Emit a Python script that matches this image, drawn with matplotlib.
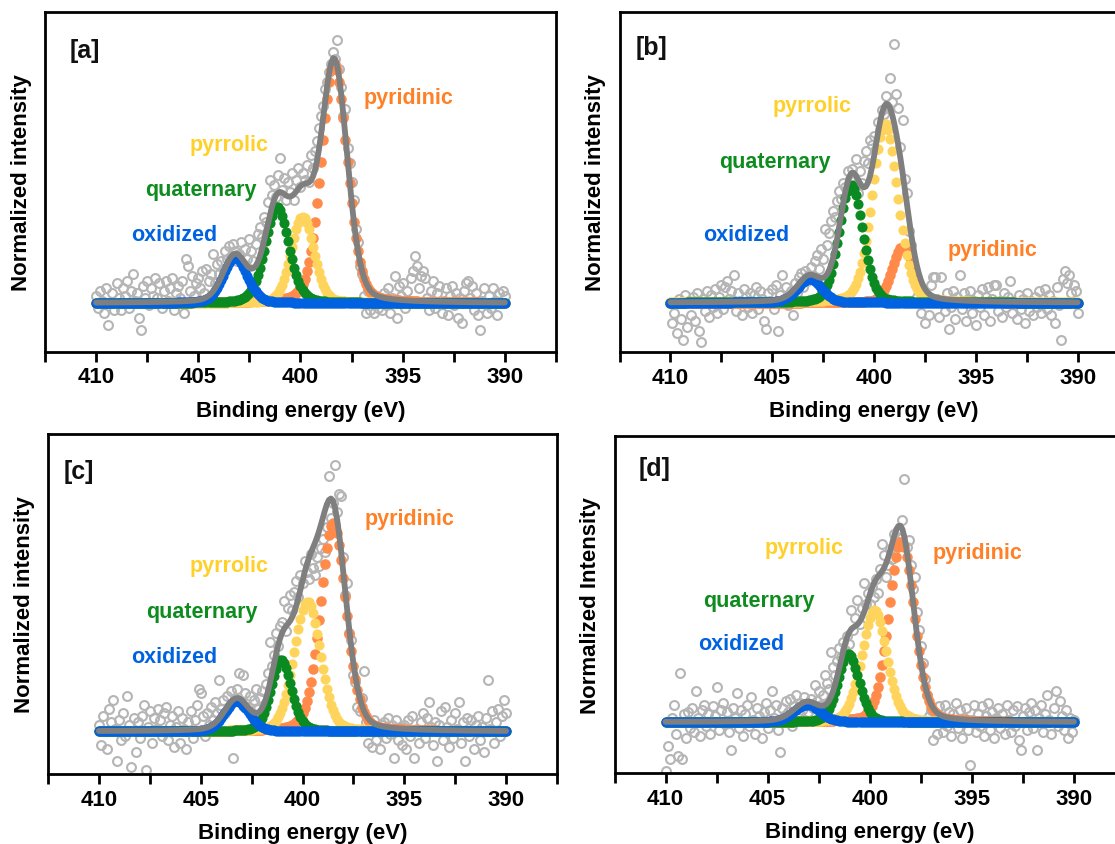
import numpy as np
import matplotlib
matplotlib.use("Agg")
import matplotlib.pyplot as plt
from matplotlib.ticker import MultipleLocator

plt.rcParams["font.family"] = ["Liberation Sans", "DejaVu Sans"]
plt.rcParams["font.weight"] = "bold"

# ---------------------------------------------------------------------------
# N 1s spectra: binding energy grid (eV), 0.1 eV step
# ---------------------------------------------------------------------------
e_start, e_stop, e_step = 410.0, 390.0, 0.1
energy = np.round(np.arange(e_start, e_stop - e_step / 2, -e_step), 1)

# measured, background-subtracted and normalised intensities (410 -> 390 eV)
intensity_a = [
    0.03, -0.02, 0.05, 0.01, -0.04, 0.06, -0.09, 0.00, 0.04, -0.03,
    0.08, 0.02, -0.03, 0.06, 0.03, 0.09, -0.02, 0.05, 0.12, 0.01,
    0.04, -0.06, -0.11, 0.07, 0.02, 0.09, -0.01, 0.06, 0.03, 0.10,
    0.02, 0.08, -0.02, 0.05, 0.09, 0.01, 0.06, 0.10, -0.03, 0.04,
    0.07, 0.02, 0.09, -0.04, 0.18, 0.15, 0.05, 0.11, 0.03, 0.08,
    0.10, 0.06, 0.13, 0.04, 0.14, 0.09, 0.12, 0.20, 0.08, 0.16,
    0.12, 0.17, 0.14, 0.21, 0.18, 0.23, 0.19, 0.24, 0.21, 0.17,
    0.20, 0.25, 0.16, 0.22, 0.18, 0.26, 0.21, 0.17, 0.24, 0.28,
    0.31, 0.27, 0.35, 0.33, 0.41, 0.50, 0.44, 0.48, 0.43, 0.52,
    0.59, 0.46, 0.51, 0.42, 0.49, 0.45, 0.53, 0.42, 0.50, 0.55,
    0.47, 0.53, 0.50, 0.56, 0.49, 0.60, 0.55, 0.62, 0.66, 0.71,
    0.76, 0.80, 0.87, 0.90, 0.94, 0.97, 1.02, 0.99, 1.07, 0.95,
    0.88, 0.76, 0.79, 0.63, 0.57, 0.49, 0.42, 0.30, 0.25, 0.15,
    0.12, 0.03, -0.04, 0.05, -0.03, 0.01, -0.04, 0.03, -0.02, 0.02,
    -0.03, 0.04, -0.01, 0.06, -0.04, 0.02, 0.11, -0.06, 0.07, 0.03,
    0.08, -0.02, 0.05, 0.01, 0.10, 0.13, 0.19, 0.15, 0.06, 0.11,
    0.13, 0.10, 0.02, -0.03, 0.05, 0.09, -0.02, 0.04, 0.07, -0.04,
    0.01, 0.06, -0.05, 0.03, 0.07, -0.01, 0.04, -0.06, 0.02, -0.08,
    0.05, 0.08, 0.09, 0.02, 0.07, -0.03, 0.04, -0.05, -0.11, 0.01,
    0.06, -0.04, 0.03, -0.02, 0.06, 0.01, -0.05, 0.04, 0.00, 0.05,
    0.03,
]
intensity_b = [
    0.00, -0.10, -0.05, -0.15, 0.02, -0.08, -0.19, 0.04, -0.12, 0.01,
    -0.06, 0.03, -0.09, 0.05, -0.14, -0.20, 0.02, -0.04, 0.06, -0.07,
    0.04, -0.02, 0.07, -0.05, 0.03, 0.09, -0.03, 0.08, 0.11, 0.02,
    0.06, 0.14, -0.04, 0.05, 0.01, -0.06, 0.07, 0.03, -0.02, 0.05,
    -0.05, 0.04, 0.08, -0.03, 0.06, 0.02, -0.09, -0.13, 0.05, 0.01,
    0.07, -0.03, 0.09, -0.14, 0.04, 0.14, 0.02, 0.08, -0.01, 0.06,
    -0.06, 0.10, 0.05, 0.13, 0.15, 0.08, 0.16, 0.11, 0.14, 0.18,
    0.12, 0.21, 0.24, 0.17, 0.27, 0.22, 0.37, 0.29, 0.35, 0.41,
    0.46, 0.43, 0.51, 0.56, 0.52, 0.60, 0.58, 0.66, 0.62, 0.67,
    0.61, 0.72, 0.55, 0.66, 0.60, 0.71, 0.76, 0.70, 0.82, 0.79,
    0.84, 0.77, 0.91, 0.87, 0.97, 0.95, 1.04, 0.98, 1.13, 1.01,
    1.30, 1.05, 0.98, 0.78, 0.92, 0.62, 0.55, 0.36, 0.29, 0.18,
    0.12, 0.03, 0.08, -0.05, 0.02, -0.10, 0.04, -0.06, 0.09, 0.13,
    0.13, 0.02, -0.07, 0.13, 0.01, -0.04, 0.05, -0.13, -0.02, 0.06,
    -0.08, 0.03, 0.14, -0.03, 0.05, -0.09, 0.02, 0.06, -0.05, 0.01,
    -0.11, 0.04, -0.02, 0.07, -0.06, 0.03, 0.08, -0.09, 0.02, 0.09,
    0.09, -0.04, 0.01, -0.07, 0.05, -0.02, 0.03, 0.11, -0.05, 0.00,
    -0.08, 0.04, -0.03, 0.02, -0.10, 0.05, -0.04, 0.01, -0.06, 0.03,
    -0.02, 0.06, -0.05, 0.02, 0.07, -0.03, 0.04, -0.06, 0.01, -0.10,
    0.08, -0.01, -0.19, 0.12, 0.16, 0.10, 0.14, 0.05, 0.09, 0.06,
    -0.05,
]
intensity_c = [
    0.03, -0.06, 0.07, 0.00, -0.08, 0.10, 0.04, 0.14, 0.01, -0.13,
    0.05, -0.04, 0.08, -0.02, 0.16, 0.03, -0.16, 0.06, -0.09, 0.04,
    -0.03, 0.07, 0.12, -0.17, 0.02, 0.09, -0.05, 0.06, 0.01, 0.10,
    0.05, -0.02, 0.08, 0.11, -0.04, 0.03, 0.07, -0.07, 0.02, 0.09,
    -0.05, 0.06, 0.01, -0.08, 0.04, 0.09, -0.03, 0.05, 0.12, 0.19,
    0.17, 0.07, -0.02, 0.08, 0.03, 0.11, 0.05, 0.13, 0.08, 0.23,
    0.10, 0.14, 0.08, 0.16, 0.11, 0.18, -0.12, 0.15, 0.19, 0.26,
    0.13, 0.25, 0.17, 0.11, 0.16, 0.08, 0.14, 0.19, 0.10, 0.15,
    0.18, 0.12, 0.21, 0.26, 0.40, 0.29, 0.34, 0.44, 0.38, 0.47,
    0.49, 0.58, 0.45, 0.55, 0.61, 0.54, 0.62, 0.67, 0.60, 0.70,
    0.66, 0.76, 0.71, 0.68, 0.79, 0.73, 0.70, 0.78, 0.74, 0.82,
    0.86, 0.80, 0.91, 1.14, 0.95, 1.02, 1.19, 0.98, 1.06, 1.05,
    0.78, 0.61, 0.66, 0.44, 0.41, 0.25, 0.22, 0.11, 0.09, 0.15,
    0.27, 0.04, -0.05, 0.02, -0.07, 0.05, -0.04, 0.01, -0.08, 0.03,
    0.04, -0.03, 0.06, -0.01, 0.03, -0.12, 0.05, -0.04, 0.02, -0.06,
    0.03, -0.08, 0.05, -0.02, 0.07, -0.12, 0.01, -0.05, 0.04, 0.08,
    -0.03, 0.06, 0.13, 0.02, -0.06, 0.04, -0.13, 0.03, 0.09, -0.04,
    0.11, 0.02, -0.07, 0.05, -0.03, 0.08, 0.01, 0.13, -0.05, 0.04,
    -0.13, 0.06, -0.02, 0.05, -0.08, 0.03, 0.07, -0.04, 0.02, -0.09,
    0.06, 0.23, 0.01, 0.09, -0.05, 0.04, 0.10, -0.02, 0.07, 0.14,
    0.08,
]
intensity_d = [
    -0.25, -0.12, -0.19, 0.02, 0.09, -0.06, -0.17, 0.25, -0.19, 0.04,
    -0.08, 0.05, -0.03, 0.07, -0.05, 0.16, 0.02, -0.07, 0.06, 0.09,
    -0.02, 0.04, -0.06, 0.08, 0.03, 0.18, -0.04, 0.06, 0.10, -0.01,
    0.05, -0.05, -0.14, 0.07, 0.02, 0.15, -0.03, 0.06, -0.07, 0.04,
    0.09, -0.02, 0.13, 0.01, -0.06, 0.07, 0.03, -0.08, 0.05, 0.10,
    -0.03, 0.06, 0.16, 0.02, 0.09, -0.04, -0.15, 0.07, 0.03, 0.11,
    0.05, 0.12, -0.02, 0.08, 0.14, 0.04, 0.10, 0.06, 0.13, 0.09,
    0.05, 0.12, 0.07, 0.19, 0.11, 0.16, 0.09, 0.14, 0.24, 0.20,
    0.17, 0.36, 0.28, 0.24, 0.31, 0.38, 0.33, 0.41, 0.37, 0.44,
    0.40, 0.57, 0.47, 0.53, 0.62, 0.50, 0.58, 0.71, 0.60, 0.66,
    0.60, 0.69, 0.64, 0.73, 0.66, 0.78, 0.91, 0.85, 0.74, 0.80,
    0.88, 0.83, 0.96, 0.90, 0.98, 0.94, 1.03, 1.24, 0.89, 0.93,
    0.80, 0.68, 0.74, 0.56, 0.47, 0.39, 0.30, 0.22, 0.14, 0.03,
    0.06, -0.09, 0.02, -0.06, 0.08, 0.03, -0.05, 0.09, -0.02, 0.05,
    -0.07, 0.04, 0.10, -0.03, 0.06, -0.08, 0.02, 0.07, -0.04, -0.22,
    0.01, 0.09, -0.05, 0.04, -0.02, 0.08, -0.07, 0.03, 0.10, -0.04,
    0.05, -0.08, 0.02, 0.07, -0.03, 0.04, -0.06, 0.09, 0.01, -0.05,
    0.06, -0.02, 0.08, -0.09, -0.14, 0.03, 0.07, -0.04, 0.05, 0.10,
    -0.03, 0.06, -0.14, 0.02, 0.09, -0.05, 0.04, 0.14, 0.01, -0.06,
    0.07, 0.16, -0.02, 0.11, 0.03, -0.04, 0.06, -0.08, 0.02, -0.05,
    0.01,
]

# fitted components: pyridinic, pyrrolic, quaternary, oxidized
centers_a = [398.35, 399.90, 401.15, 403.20]
heights_a = [0.975, 0.35, 0.39, 0.185]
fwhm_a = [1.50, 1.30, 1.40, 1.40]

centers_b = [398.59, 399.46, 401.13, 403.17]
heights_b = [0.28, 0.90, 0.59, 0.12]
fwhm_b = [1.20, 1.50, 1.35, 1.40]

centers_c = [398.49, 399.77, 401.04, 403.23]
heights_c = [0.93, 0.58, 0.32, 0.135]
fwhm_c = [1.50, 1.50, 1.20, 1.40]

centers_d = [398.45, 399.78, 401.04, 403.08]
heights_d = [0.92, 0.57, 0.35, 0.09]
fwhm_d = [1.45, 1.45, 1.20, 1.50]

lorentz_fraction = 0.2

species = ["pyridinic", "pyrrolic", "quaternary", "oxidized"]
dot_colors = ["#FF8A4A", "#FFD45C", "#0B8A22", "#0062E0"]
text_colors = ["#FF8127", "#FFD02A", "#0F8C1F", "#0062E0"]

panel_tags = ["[a]", "[b]", "[c]", "[d]"]
y_titles = ["Normalized intensity", "Normalized intensity",
            "Normalized intensity", "Normalized Intensity"]

# text anchors (left edge, vertical centre) for the species labels
label_pos = {
    "a": {"[a]": (411.3, 1.03), "pyridinic": (396.9, 0.835), "pyrrolic": (405.45, 0.645),
          "quaternary": (407.6, 0.46), "oxidized": (408.3, 0.278)},
    "b": {"[b]": (411.7, 1.285), "pyrrolic": (405.0, 0.99), "quaternary": (407.6, 0.71),
          "oxidized": (408.4, 0.342), "pyridinic": (396.4, 0.268)},
    "c": {"[c]": (411.75, 1.16), "pyridinic": (396.95, 0.948), "pyrrolic": (405.55, 0.74),
          "quaternary": (407.7, 0.534), "oxidized": (408.4, 0.333)},
    "d": {"[d]": (411.3, 1.297), "pyrrolic": (405.15, 0.89), "pyridinic": (396.9, 0.864),
          "quaternary": (408.15, 0.622), "oxidized": (408.4, 0.403)},
}

y_limits = {"a": (-0.197, 1.183), "b": (-0.248, 1.461),
            "c": (-0.19, 1.327), "d": (-0.259, 1.458)}

# axes rectangles in pixels: left, top, right, bottom
W, H = 1115, 845
boxes = {"a": (45, 13, 556, 352.5), "b": (619.5, 13, 1128.5, 353),
         "c": (48, 435, 557, 775), "d": (614.5, 437, 1125, 774)}


def pseudo_voigt(x, c, h, w, eta):
    u = (x - c) / w
    gauss = np.exp(-4.0 * np.log(2.0) * u ** 2)
    lorentz = 1.0 / (1.0 + 4.0 * u ** 2)
    return h * ((1.0 - eta) * gauss + eta * lorentz)


panels = {
    "a": (intensity_a, centers_a, heights_a, fwhm_a),
    "b": (intensity_b, centers_b, heights_b, fwhm_b),
    "c": (intensity_c, centers_c, heights_c, fwhm_c),
    "d": (intensity_d, centers_d, heights_d, fwhm_d),
}

fig = plt.figure(figsize=(W / 100, H / 100), dpi=100)

for idx, key in enumerate(["a", "b", "c", "d"]):
    data, cen, hei, wid = panels[key]
    l, t, r, b = boxes[key]
    ax = fig.add_axes([l / W, (H - b) / H, (r - l) / W, (b - t) / H])

    ax.plot(energy, data, "o", mfc="none", mec="#B5B5B5", ms=6.4, mew=1.5,
            zorder=1, clip_on=True)

    total = np.zeros_like(energy, dtype=float)
    for k in range(4):
        comp = pseudo_voigt(energy, cen[k], hei[k], wid[k], lorentz_fraction)
        total += comp
        ax.plot(energy, comp, "o", ls="none", ms=7.6 if k == 0 else 7.3,
                mew=0, color=dot_colors[k], zorder=2 + k)

    ax.plot(energy, total, color="#7F7F7F", lw=4.2, solid_capstyle="round",
            solid_joinstyle="round", zorder=7)

    pos = label_pos[key]
    tx, ty = pos[panel_tags[idx]]
    ax.text(tx, ty, panel_tags[idx], ha="left", va="center", fontsize=18,
            fontweight="bold", color="#111111", zorder=8)
    for k, name in enumerate(species):
        x0, y0 = pos[name]
        ax.text(x0, y0, name, ha="left", va="center", fontsize=15.5,
                fontweight="bold", color=text_colors[k], zorder=8)

    ax.set_xlim(412.5, 387.5)
    ax.set_ylim(*y_limits[key])
    ax.xaxis.set_major_locator(MultipleLocator(5))
    ax.xaxis.set_minor_locator(MultipleLocator(2.5))
    ax.tick_params(axis="x", which="both", direction="out", length=7,
                   width=2, top=False, labelsize=16, pad=3.6)
    ax.set_yticks([])
    for s in ax.spines.values():
        s.set_linewidth(2)
    ax.set_xlabel("Binding energy (eV)", fontsize=16, fontweight="bold",
                  labelpad=9)
    ax.set_ylabel(y_titles[idx], fontsize=16, fontweight="bold", labelpad=9.5)

fig.savefig("out.png", dpi=100)
